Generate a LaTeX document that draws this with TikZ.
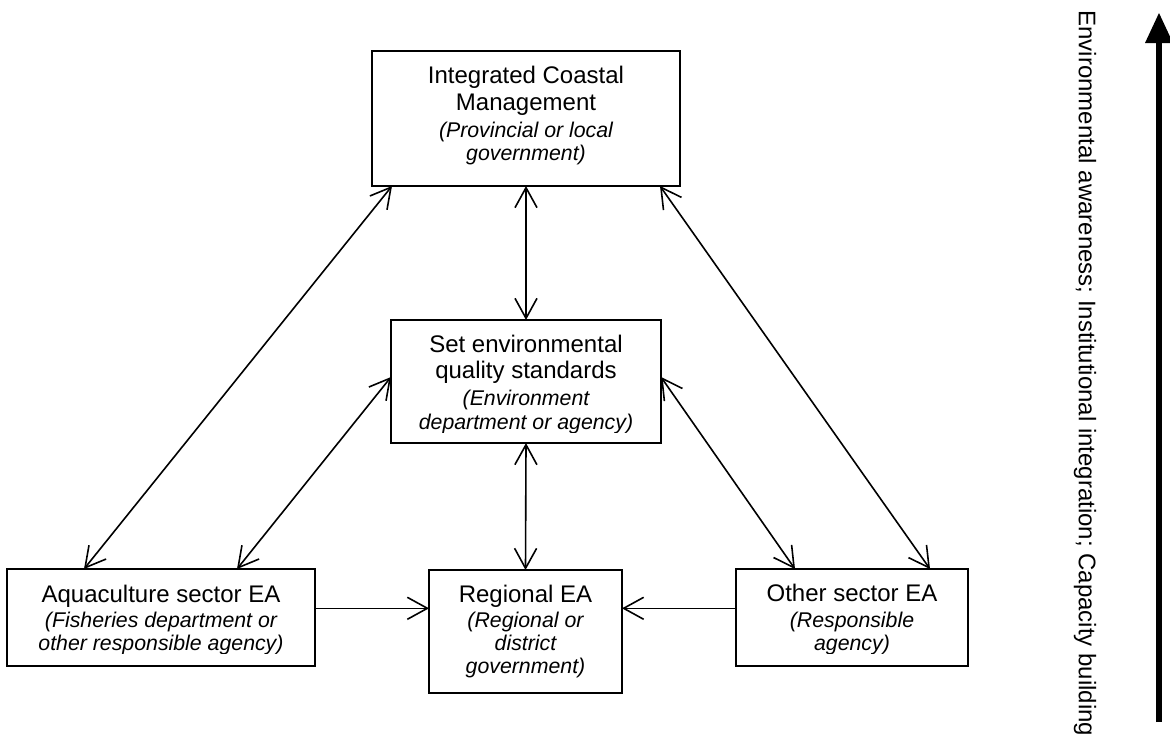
\documentclass[tikz,border=0pt]{standalone}
\usepackage{fontspec}
\setmainfont{Liberation Sans}
\usetikzlibrary{arrows.meta,calc}
\begin{document}
\begin{tikzpicture}[x=1pt,y=-1pt,
  box/.style={draw, line width=2pt, rectangle, inner sep=0pt, outer sep=0pt},
  title/.style={font=\fontsize{24}{28}\selectfont, inner sep=0pt, anchor=base},
  agency/.style={font=\fontsize{21.3}{24}\selectfont\itshape, inner sep=0pt, anchor=base},
  link/.style={line width=1.6pt, >={Straight Barb[length=20pt,width=22pt]}},
  ]
\useasboundingbox[fill=white] (0,0) rectangle (1170,740);

% organisation boxes
\node[box, minimum width=308pt, minimum height=135pt] (icm)   at (526,118.5) {};
\node[box, minimum width=270pt, minimum height=123pt] (env)   at (526,381.5) {};
\node[box, minimum width=308pt, minimum height=97pt]  (aqua)  at (161,617.5) {};
\node[box, minimum width=193pt, minimum height=123pt] (reg)   at (525.5,631.5) {};
\node[box, minimum width=232pt, minimum height=97pt]  (other) at (852,617.5) {};

% box texts
\node[title]  (icm1) at (526,83.3)  {Integrated Coastal};
\node[title]  (icm2) at (526,110)   {Management};
\node[agency] (icm3) at (526,137.3) {(Provincial or local};
\node[agency] (icm4) at (526,160)   {government)};

\begin{scope}
  \clip (env.north west) rectangle ($(env.south east)+(0,-11)$);
  \node[title]  (env1) at (526,352.3) {Set environmental};
  \node[title]  (env2) at (526,378.3) {quality standards};
  \node[agency] (env3) at (526,405.7) {(Environment};
  \node[agency] (env4) at (526,429.3) {department or agency)};
\end{scope}

\begin{scope}
  \clip (aqua.north west) rectangle ($(aqua.south east)+(0,-13)$);
  \node[title]  (aqua1) at (161,602.3) {Aquaculture sector EA};
  \node[agency] (aqua2) at (161,627.3) {(Fisheries department or};
  \node[agency] (aqua3) at (161,650)   {other responsible agency)};
\end{scope}

\node[title]  (reg1) at (525.5,602.3) {Regional EA};
\node[agency] (reg2) at (525.5,627.3) {(Regional or};
\node[agency] (reg3) at (525.5,650.3) {district};
\node[agency] (reg4) at (525.5,673.3) {government)};

\begin{scope}
  \clip (other.north west) rectangle ($(other.south east)+(0,-13)$);
  \node[title]  (other1) at (852,601.7) {Other sector EA};
  \node[agency] (other2) at (852,627.7) {(Responsible};
  \node[agency] (other3) at (852,650.7) {agency)};
\end{scope}

% two-way links
\draw[link,<->] ($(icm.south west)+(20,0)$) -- ($(aqua.north west)+(77,0)$);
\draw[link,<->] ($(env.west)+(0,-4.5)$) -- ($(aqua.north east)+(-78,0)$);
\draw[link,<->] (icm.south) -- (env.north);
\draw[link,<->] ($(icm.south east)+(-20,0)$) -- ($(other.north east)+(-38,0)$);
\draw[link,<->] ($(env.east)+(0,-4.5)$) -- ($(other.north west)+(59,0)$);
\draw[link,<->] (env.south) -- (reg.north);

% one-way links into the regional box
\coordinate (aquaout) at ($(aqua.east)+(0,-9.2)$);
\coordinate (otherout) at ($(other.west)+(0,-9.2)$);
\draw[link,->] (aquaout) -- (aquaout -| reg.west);
\draw[link,->] (otherout) -- (otherout -| reg.east);

% side axis
\node[font=\fontsize{24}{28}\selectfont, rotate=-90, inner sep=0pt] (axislabel) at (1085,373.5)
  {Environmental awareness; Institutional integration; Capacity building};
\coordinate (axisfoot) at (1159,722);
\coordinate (axishead) at (1159,13);
\draw[line width=6pt, -{Triangle[length=30pt,width=28pt,line width=0pt]}] (axisfoot) -- (axishead);
\end{tikzpicture}
\end{document}
